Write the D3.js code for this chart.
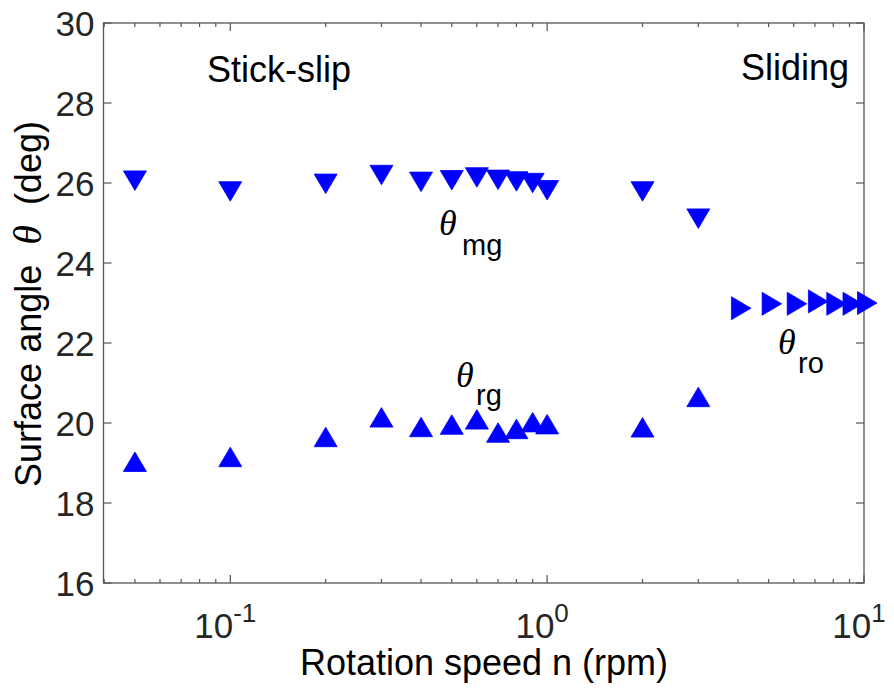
<!DOCTYPE html>
<html>
<head>
<meta charset="utf-8">
<script src="https://cdn.jsdelivr.net/npm/d3@7"></script>
<style>
  html, body { margin: 0; padding: 0; background: #fff; }
  svg { display: block; }
</style>
</head>
<body>
<div id="chart"></div>
<script>
// ---------------- data ----------------
const nStick = [0.05, 0.1, 0.2, 0.3, 0.4, 0.5, 0.6, 0.7, 0.8, 0.9, 1, 2, 3];
const thetaMg = [26.14, 25.87, 26.06, 26.28, 26.11, 26.15, 26.22, 26.16, 26.12, 26.08, 25.90, 25.87, 25.19];
const thetaRg = [18.95, 19.07, 19.57, 20.06, 19.82, 19.88, 20.01, 19.68, 19.77, 19.94, 19.89, 19.81, 20.57];
const nSlide = [4, 5, 6, 7, 8, 9, 10];
const thetaRo = [22.87, 22.98, 22.98, 23.04, 22.98, 22.98, 23.00];
const yTicks = [16, 18, 20, 22, 24, 26, 28, 30];
const xMajorTicks = [0.1, 1, 10];
const xMajorExp = ["-1", "0", "1"];

// ---------------- layout ----------------
const W = 894, H = 692;
const L = 103.5, R = 864, T = 23, B = 583;
const sansFont = "'Liberation Sans', Arial, Helvetica, sans-serif";
const serifFont = "'Liberation Serif', 'DejaVu Serif', 'Times New Roman', serif";
const axisColor = "#555";
const tickColor = "#262626";
const markColor = "#0000ff";

const svg = d3.select("#chart").append("svg")
  .attr("width", W).attr("height", H);

const x = d3.scaleLog().domain([0.0398, 10]).range([L, R]);
const y = d3.scaleLinear().domain([16, 30]).range([B, T]);

// minor ticks on log axis
const minorTicks = [];
[0.01, 0.1, 1].forEach(d => { for (let k = 2; k <= 9; k++) { const v = d * k; if (v > 0.0398 && v < 10) minorTicks.push(v); } });

const g = svg.append("g");

// box
g.append("rect").attr("x", L).attr("y", T).attr("width", R - L).attr("height", B - T)
  .attr("fill", "none").attr("stroke", axisColor).attr("stroke-width", 1.3);

// x ticks (bottom & top)
const allX = xMajorTicks.map(v => ({v, len: 8})).concat(minorTicks.map(v => ({v, len: 4})));
allX.forEach(t => {
  const px = x(t.v);
  g.append("line").attr("x1", px).attr("x2", px).attr("y1", B).attr("y2", B - t.len)
    .attr("stroke", axisColor).attr("stroke-width", 1.2);
  g.append("line").attr("x1", px).attr("x2", px).attr("y1", T).attr("y2", T + t.len)
    .attr("stroke", axisColor).attr("stroke-width", 1.2);
});
// y ticks (left & right)
yTicks.forEach(v => {
  const py = y(v);
  g.append("line").attr("x1", L).attr("x2", L + 8).attr("y1", py).attr("y2", py)
    .attr("stroke", axisColor).attr("stroke-width", 1.2);
  g.append("line").attr("x1", R).attr("x2", R - 8).attr("y1", py).attr("y2", py)
    .attr("stroke", axisColor).attr("stroke-width", 1.2);
});

// y tick labels
yTicks.forEach(v => {
  g.append("text").attr("x", L - 9).attr("y", y(v) + 12.5)
    .attr("text-anchor", "end").attr("font-family", sansFont).attr("font-size", 35)
    .attr("fill", tickColor).text(v);
});
// x tick labels with exponent
xMajorTicks.forEach((v, i) => {
  const t = g.append("text").attr("x", x(v) - 5).attr("y", 638)
    .attr("text-anchor", "middle").attr("font-family", sansFont).attr("font-size", 35)
    .attr("fill", tickColor);
  t.append("tspan").text("10");
  t.append("tspan").attr("dy", -16).attr("font-size", 26).text(xMajorExp[i]);
});

// axis labels
g.append("text").attr("x", 484).attr("y", 675).attr("text-anchor", "middle")
  .attr("font-family", sansFont).attr("font-size", 36).attr("fill", "#000")
  .text("Rotation speed n (rpm)");
const yl = g.append("text").attr("transform", "translate(41,304) rotate(-90)")
  .attr("text-anchor", "middle").attr("font-family", sansFont).attr("font-size", 36)
  .attr("fill", "#000").attr("xml:space", "preserve");
yl.append("tspan").text("Surface angle\u00a0 ");
yl.append("tspan").attr("font-family", serifFont).attr("font-style", "italic").attr("font-size", 40).text("\u03b8");
yl.append("tspan").text("\u00a0 (deg)");

// region labels
g.append("text").attr("x", 207).attr("y", 82).attr("font-family", sansFont)
  .attr("font-size", 36).attr("fill", "#000").text("Stick-slip");
g.append("text").attr("x", 741).attr("y", 80).attr("font-family", sansFont)
  .attr("font-size", 36).attr("fill", "#000").text("Sliding");

// theta annotations
function thetaLabel(tx, ty, sub, sx, sy) {
  g.append("text").attr("x", tx).attr("y", ty).attr("font-family", serifFont)
    .attr("font-style", "italic").attr("font-size", 36).attr("fill", "#000").text("\u03b8");
  g.append("text").attr("x", sx).attr("y", sy).attr("font-family", sansFont)
    .attr("font-size", 29).attr("fill", "#000").text(sub);
}
thetaLabel(439, 235, "mg", 462, 255);
thetaLabel(456, 387, "rg", 476, 405);
thetaLabel(778, 354, "ro", 798, 373);

// triangle markers (centroid-centred)
const BASE = 23, HGT = 19.5;
function tri(dir) {
  const b = BASE / 2, h1 = HGT * 2 / 3, h2 = HGT / 3;
  let pts;
  if (dir === "up") pts = [[0, -h1], [-b, h2], [b, h2]];
  else if (dir === "down") pts = [[0, h1], [-b, -h2], [b, -h2]];
  else pts = [[h1, 0], [-h2, -b], [-h2, b]];
  return "M" + pts.map(p => p.join(",")).join("L") + "Z";
}

const mk = svg.append("g");
mk.selectAll(".mg").data(nStick.map((n, i) => [n, thetaMg[i]])).join("path")
  .attr("class", "mg").attr("d", tri("down"))
  .attr("transform", d => `translate(${x(d[0])},${y(d[1])})`)
  .attr("fill", markColor).attr("stroke", markColor).attr("stroke-width", 0.8).attr("stroke-linejoin", "round");
mk.selectAll(".rg").data(nStick.map((n, i) => [n, thetaRg[i]])).join("path")
  .attr("class", "rg").attr("d", tri("up"))
  .attr("transform", d => `translate(${x(d[0])},${y(d[1])})`)
  .attr("fill", markColor).attr("stroke", markColor).attr("stroke-width", 0.8).attr("stroke-linejoin", "round");
mk.selectAll(".ro").data(nSlide.map((n, i) => [n, thetaRo[i]])).join("path")
  .attr("class", "ro").attr("d", tri("right"))
  .attr("transform", d => `translate(${x(d[0])},${y(d[1])})`)
  .attr("fill", markColor).attr("stroke", markColor).attr("stroke-width", 0.8).attr("stroke-linejoin", "round");
</script>
</body>
</html>
